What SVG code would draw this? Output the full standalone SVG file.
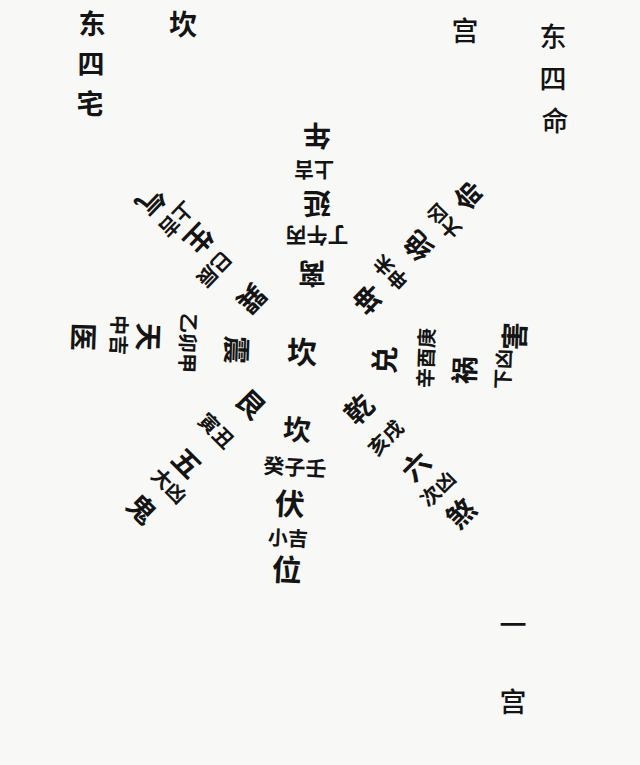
<svg xmlns="http://www.w3.org/2000/svg" width="640" height="765" viewBox="0 0 640 765">
<style>
text{font-family:"Noto Sans CJK SC","Noto Sans CJK JP",sans-serif;fill:#141414;text-anchor:middle;dominant-baseline:central}
.b{font-size:28px;font-weight:700}
.m{font-size:27px;font-weight:500}
.s{font-size:20px;font-weight:700}
.t{font-size:27px;font-weight:700}
</style>
<rect width="640" height="765" fill="#f8f8f6"/>
<g id="connectors"/>
<g id="title-left">
<text class="t" x="92" y="22">东</text>
<text class="t" x="91" y="62">四</text>
<text class="t" x="90" y="102">宅</text>
<text class="b" x="183" y="23">坎</text>
</g>
<g id="title-right">
<text class="m" x="465" y="29">宫</text>
<text class="m" x="553" y="35">东</text>
<text class="m" x="553" y="77">四</text>
<text class="m" x="555" y="119">命</text>
</g>
<g id="title-bottom">
<text class="m" x="513" y="623">一</text>
<text class="m" x="513" y="700">宫</text>
</g>
<g id="center">
<text class="b" x="302" y="350" style="font-size:30px">坎</text>
</g>
<g id="ray-s">
<text class="b" transform="translate(297,428) rotate(3)">坎</text>
<text class="s" transform="translate(295,466) rotate(3)" style="font-size:21px">癸子壬</text>
<text class="b" transform="translate(290,502) rotate(3)" style="font-size:30px">伏</text>
<text class="s" transform="translate(288,537) rotate(3)">小吉</text>
<text class="b" transform="translate(287,568) rotate(3)" style="font-size:30px">位</text>
</g>
<g id="ray-n">
<text class="b" transform="translate(312,275) rotate(180)">离</text>
<text class="s" transform="translate(317,237) rotate(180)" style="font-size:21px">丁午丙</text>
<text class="b" transform="translate(317,205) rotate(180)">延</text>
<text class="s" transform="translate(314,170) rotate(180)">上吉</text>
<text class="b" transform="translate(317,137) rotate(180)">年</text>
</g>
<g id="ray-w">
<text class="b" transform="translate(238,350) rotate(92)">震</text>
<text class="s" transform="translate(189,343) rotate(92)">乙卯甲</text>
<text class="b" transform="translate(150,337) rotate(92)">天</text>
<text class="s" transform="translate(120,335) rotate(92)">中吉</text>
<text class="b" transform="translate(85,337) rotate(92)">医</text>
</g>
<g id="ray-e">
<text class="b" transform="translate(383,360) rotate(-88)">兑</text>
<text class="s" transform="translate(425,358) rotate(-88)">辛酉庚</text>
<text class="b" transform="translate(463,370) rotate(-88)">祸</text>
<text class="s" transform="translate(502,369) rotate(-88)">下凶</text>
<text class="b" transform="translate(513,336) rotate(-88)">害</text>
</g>
<g id="ray-ne">
<text class="b" transform="translate(367,300) rotate(-136)">坤</text>
<text class="s" transform="translate(390,273) rotate(-136)">申未</text>
<text class="b" transform="translate(417,247) rotate(-136)">绝</text>
<text class="s" transform="translate(443,222) rotate(-136)">大凶</text>
<text class="b" transform="translate(467,197) rotate(-136)">命</text>
</g>
<g id="ray-nw">
<text class="b" transform="translate(253,300) rotate(134)">巽</text>
<text class="s" transform="translate(215,270) rotate(134)">巳辰</text>
<text class="b" transform="translate(200,240) rotate(134)">生</text>
<text class="s" transform="translate(177,220) rotate(134)">上吉</text>
<text class="b" transform="translate(152,202) rotate(134)">气</text>
</g>
<g id="ray-sw">
<text class="b" transform="translate(252,403) rotate(45)">艮</text>
<text class="s" transform="translate(217,430) rotate(45)">寅丑</text>
<text class="b" transform="translate(188,462) rotate(45)">五</text>
<text class="s" transform="translate(170,485) rotate(45)">大凶</text>
<text class="b" transform="translate(143,508) rotate(45)">鬼</text>
</g>
<g id="ray-se">
<text class="b" transform="translate(358,408) rotate(-45)">乾</text>
<text class="s" transform="translate(385,437) rotate(-45)">亥戌</text>
<text class="b" transform="translate(415,465) rotate(-45)">六</text>
<text class="s" transform="translate(437,488) rotate(-45)">次凶</text>
<text class="b" transform="translate(460,512) rotate(-45)">煞</text>
</g>
</svg>
